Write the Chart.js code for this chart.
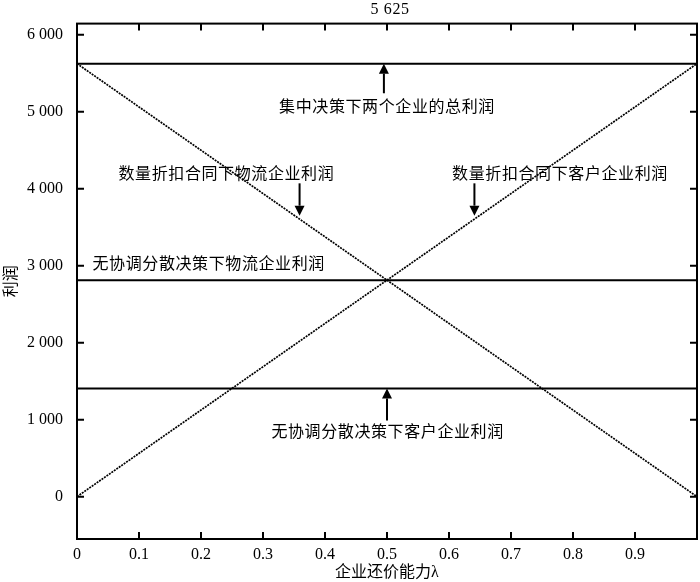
<!DOCTYPE html>
<html>
<head>
<meta charset="utf-8">
<script src="https://cdn.jsdelivr.net/npm/chart.js@4/dist/chart.umd.min.js"></script>
<style>
html, body { margin: 0; padding: 0; background: #fff; }
#wrap { width: 700px; height: 582px; }
</style>
</head>
<body>
<div id="wrap"><canvas id="chart"></canvas></div>
<script>
// 数据
const lambda = [0, 1];
const totalCentral = [5625, 5625];        // 集中决策下两个企业的总利润
const logisticsDiscount = [5625, 0];      // 数量折扣合同下物流企业利润
const clientDiscount = [0, 5625];         // 数量折扣合同下客户企业利润
const logisticsNoCoord = [2812.5, 2812.5]; // 无协调分散决策下物流企业利润
const clientNoCoord = [1406.25, 1406.25];  // 无协调分散决策下客户企业利润

const xTicks = [0, 0.1, 0.2, 0.3, 0.4, 0.5, 0.6, 0.7, 0.8, 0.9];
const xTickLabels = ['0', '0.1', '0.2', '0.3', '0.4', '0.5', '0.6', '0.7', '0.8', '0.9'];
const yTicks = [0, 1000, 2000, 3000, 4000, 5000, 6000];
const yTickLabels = ['0', '1 000', '2 000', '3 000', '4 000', '5 000', '6 000'];

// 标注
const notes = [
    { text: '5 625', x: 0.505, y: 6330, align: 'center' },
    { text: '集中决策下两个企业的总利润', x: 0.5, y: 5050, align: 'center' },
    { text: '数量折扣合同下物流企业利润', x: 0.241, y: 4184, align: 'center' },
    { text: '数量折扣合同下客户企业利润', x: 0.779, y: 4184, align: 'center' },
    { text: '无协调分散决策下物流企业利润', x: 0.025, y: 3018, align: 'left' },
    { text: '无协调分散决策下客户企业利润', x: 0.501, y: 829, align: 'center' }
];
const arrows = [
    { x: 0.495, from: 5240, to: 5625 },
    { x: 0.359, from: 4070, to: 3650 },
    { x: 0.641, from: 4070, to: 3650 },
    { x: 0.5, from: 990, to: 1406.25 }
];

const FONT = "'Liberation Serif', 'Noto Sans CJK SC', serif";

function pts(ys) {
    return lambda.map((x, i) => ({ x: x, y: ys[i] }));
}

// 边框、内向刻度、箭头和文字
const framePlugin = {
    id: 'frame',
    afterDatasetsDraw(chart) {
        const { ctx, chartArea: a, scales: { x, y } } = chart;
        ctx.save();
        ctx.strokeStyle = '#000';
        ctx.fillStyle = '#000';
        ctx.lineWidth = 2;
        ctx.strokeRect(a.left, a.top, a.right - a.left, a.bottom - a.top);

        const tl = 7;
        ctx.beginPath();
        xTicks.forEach(v => {
            if (v === 0) return;
            const px = x.getPixelForValue(v);
            ctx.moveTo(px, a.bottom); ctx.lineTo(px, a.bottom - tl);
            ctx.moveTo(px, a.top); ctx.lineTo(px, a.top + tl);
        });
        yTicks.forEach(v => {
            const py = y.getPixelForValue(v);
            ctx.moveTo(a.left, py); ctx.lineTo(a.left + tl, py);
            ctx.moveTo(a.right, py); ctx.lineTo(a.right - tl, py);
        });
        ctx.stroke();

        arrows.forEach(ar => {
            const px = x.getPixelForValue(ar.x);
            const p0 = y.getPixelForValue(ar.from);
            const p1 = y.getPixelForValue(ar.to);
            const dir = p1 > p0 ? 1 : -1;
            const hl = 10, hw = 5;
            ctx.beginPath();
            ctx.moveTo(px, p0);
            ctx.lineTo(px, p1 - dir * hl);
            ctx.stroke();
            ctx.beginPath();
            ctx.moveTo(px, p1);
            ctx.lineTo(px - hw, p1 - dir * hl);
            ctx.lineTo(px + hw, p1 - dir * hl);
            ctx.closePath();
            ctx.fill();
        });

        ctx.font = '16px ' + FONT;
        ctx.textBaseline = 'middle';
        ctx.letterSpacing = '0.6px';
        notes.forEach(n => {
            ctx.textAlign = n.align;
            ctx.fillText(n.text, x.getPixelForValue(n.x), y.getPixelForValue(n.y));
        });
        ctx.restore();
    }
};

const solid = { borderColor: '#000', borderWidth: 2, pointRadius: 0, fill: false };
const dotted = { borderColor: '#000', borderWidth: 1.7, borderDash: [2, 1], pointRadius: 0, fill: false };

new Chart(document.getElementById('chart'), {
    type: 'line',
    data: {
        datasets: [
            Object.assign({ label: '集中决策下两个企业的总利润', data: pts(totalCentral) }, solid),
            Object.assign({ label: '数量折扣合同下物流企业利润', data: pts(logisticsDiscount) }, dotted),
            Object.assign({ label: '数量折扣合同下客户企业利润', data: pts(clientDiscount) }, dotted),
            Object.assign({ label: '无协调分散决策下物流企业利润', data: pts(logisticsNoCoord) }, solid),
            Object.assign({ label: '无协调分散决策下客户企业利润', data: pts(clientNoCoord) }, solid)
        ]
    },
    options: {
        responsive: true,
        maintainAspectRatio: false,
        animation: false,
        layout: { padding: { top: 22, right: 3, left: 0, bottom: 0 } },
        plugins: { legend: { display: false }, tooltip: { enabled: false } },
        scales: {
            x: {
                type: 'linear',
                min: 0,
                max: 1,
                afterBuildTicks: s => { s.ticks = xTicks.map(v => ({ value: v })); },
                afterFit: s => { s.height = 43; },
                grid: { display: false, drawTicks: false },
                border: { display: false },
                ticks: {
                    color: '#000',
                    font: { family: FONT, size: 16 },
                    padding: 6,
                    maxRotation: 0,
                    autoSkip: false,
                    callback: (v, i) => xTickLabels[i]
                },
                title: {
                    display: true,
                    text: '企业还价能力λ',
                    color: '#000',
                    font: { family: FONT, size: 16 },
                    padding: 0
                }
            },
            y: {
                min: -550,
                max: 6145,
                afterBuildTicks: s => { s.ticks = yTicks.map(v => ({ value: v })); },
                afterFit: s => { s.width = 77; },
                grid: { display: false, drawTicks: false },
                border: { display: false },
                ticks: {
                    color: '#000',
                    font: { family: FONT, size: 16 },
                    padding: 14,
                    callback: (v, i) => yTickLabels[i]
                },
                title: {
                    display: true,
                    text: '利润',
                    color: '#000',
                    font: { family: FONT, size: 16 },
                    padding: { top: 2, bottom: 0 }
                }
            }
        }
    },
    plugins: [framePlugin]
});
</script>
</body>
</html>
